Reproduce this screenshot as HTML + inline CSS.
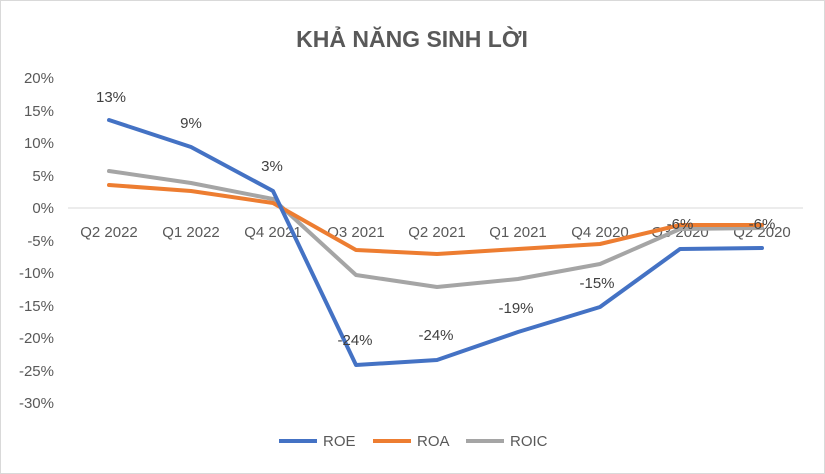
<!DOCTYPE html>
<html><head><meta charset="utf-8"><style>
body{margin:0;background:#fff}
svg{display:block}
text{font-family:"Liberation Sans",sans-serif}
</style></head><body>
<svg width="825" height="474" viewBox="0 0 825 474" xmlns="http://www.w3.org/2000/svg">
<rect x="0.5" y="0.5" width="824" height="473" fill="#fff" stroke="#d9d9d9"/>
<text x="412" y="47" text-anchor="middle" font-size="23" font-weight="bold" fill="#595959">KHẢ NĂNG SINH LỜI</text>
<g font-size="15" fill="#595959" text-anchor="end">
<text x="54" y="83">20%</text>
<text x="54" y="116">15%</text>
<text x="54" y="148">10%</text>
<text x="54" y="181">5%</text>
<text x="54" y="213">0%</text>
<text x="54" y="246">-5%</text>
<text x="54" y="278">-10%</text>
<text x="54" y="311">-15%</text>
<text x="54" y="343">-20%</text>
<text x="54" y="376">-25%</text>
<text x="54" y="408">-30%</text>
</g>
<line x1="68" y1="208" x2="803" y2="208" stroke="#d9d9d9"/>
<g font-size="15" fill="#595959" text-anchor="middle">
<text x="109" y="237">Q2 2022</text>
<text x="191" y="237">Q1 2022</text>
<text x="273" y="237">Q4 2021</text>
<text x="356" y="237">Q3 2021</text>
<text x="437" y="237">Q2 2021</text>
<text x="518" y="237">Q1 2021</text>
<text x="600" y="237">Q4 2020</text>
<text x="680" y="237">Q3 2020</text>
<text x="762" y="237">Q2 2020</text>
</g>
<g fill="none" stroke-width="4" stroke-linejoin="round" stroke-linecap="round">
<polyline stroke="#a5a5a5" points="109,171 191,183 273,199 356,275 437,287 518,279 600,264 680,229 762,228"/>
<polyline stroke="#ed7d31" points="109,185 191,191 273,203 356,250 437,254 518,249 600,244 680,225 762,225"/>
<polyline stroke="#4472c4" points="109,120 191,147 273,191 356,365 437,360 518,332 600,307 680,249 762,248"/>
</g>
<g font-size="15" fill="#404040" text-anchor="middle">
<text x="111" y="102">13%</text>
<text x="191" y="128">9%</text>
<text x="272" y="171">3%</text>
<text x="355" y="345">-24%</text>
<text x="436" y="340">-24%</text>
<text x="516" y="313">-19%</text>
<text x="597" y="288">-15%</text>
<text x="680" y="229">-6%</text>
<text x="762" y="229">-6%</text>
</g>
<g font-size="15" fill="#595959">
<line x1="279" y1="441" x2="317" y2="441" stroke="#4472c4" stroke-width="4"/>
<text x="323" y="446">ROE</text>
<line x1="373" y1="441" x2="411" y2="441" stroke="#ed7d31" stroke-width="4"/>
<text x="417" y="446">ROA</text>
<line x1="466" y1="441" x2="504" y2="441" stroke="#a5a5a5" stroke-width="4"/>
<text x="510" y="446">ROIC</text>
</g>
</svg>
</body></html>
